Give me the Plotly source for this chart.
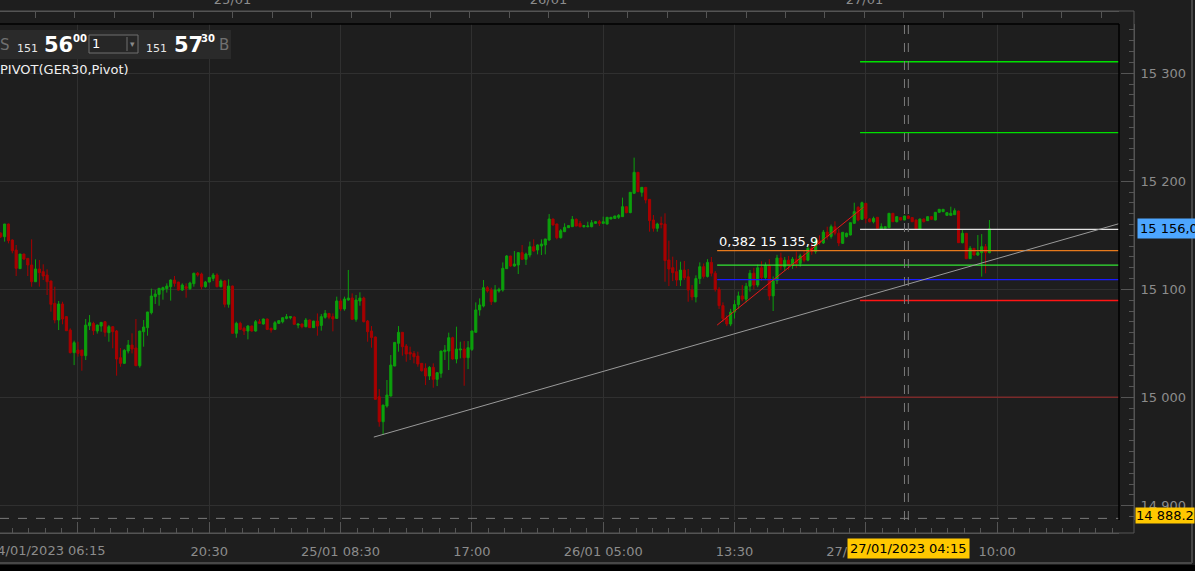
import plotly.graph_objects as go

# ---------------- data ----------------
# 15-minute candles, x = trading slot index (0 = 24/01 06:15)
opens = [
    15151.9, 15148.8, 15160.5, 15145.7, 15136.4, 15119.2, 15132.7, 15128.7, 15122.6, 15107.1,
    15118.9, 15116.4, 15113.3, 15107.8, 15087.1, 15071.7, 15086.5, 15074.8, 15062.4, 15041.5,
    15043.9, 15043.9, 15038.7, 15066.4, 15068.6, 15061.5, 15066.1, 15070.1, 15060.0, 15065.5,
    15061.5, 15036.8, 15031.6, 15043.0, 15048.5, 15045.8, 15029.4, 15060.9, 15064.6, 15078.5,
    15093.3, 15095.4, 15099.4, 15100.7, 15102.5, 15108.7, 15106.8, 15099.4, 15102.5, 15100.7,
    15105.3, 15114.9, 15114.2, 15102.5, 15106.8, 15110.2, 15113.3, 15102.5, 15107.8, 15086.2,
    15103.1, 15059.4, 15068.6, 15064.0, 15061.5, 15066.1, 15061.5, 15070.1, 15068.0, 15072.6,
    15064.0, 15063.0, 15068.6, 15070.1, 15073.2, 15073.8, 15074.5, 15067.0, 15068.0, 15065.5,
    15071.7, 15064.6, 15070.7, 15066.7, 15074.2, 15077.8, 15074.8, 15073.2, 15089.3, 15081.9,
    15090.2, 15092.0, 15072.3, 15089.3, 15092.0, 15070.7, 15061.5, 15056.0, 15000.7, 14977.6,
    14992.1, 15001.4, 15029.1, 15050.1, 15060.3, 15047.6, 15041.8, 15040.8, 15038.3, 15031.6,
    15027.0, 15019.9, 15027.9, 15016.8, 15022.4, 15042.4, 15043.0, 15055.3, 15035.6, 15044.0,
    15044.8, 15036.8, 15044.5, 15060.3, 15081.0, 15084.6, 15101.6, 15099.4, 15088.6, 15098.5,
    15099.4, 15119.2, 15130.9, 15121.6, 15122.6, 15134.0, 15127.8, 15131.8, 15139.5, 15136.4,
    15140.1, 15141.1, 15145.7, 15165.1, 15160.5, 15147.8, 15153.4, 15157.1, 15158.0, 15164.8,
    15161.1, 15158.0, 15158.0, 15158.0, 15161.1, 15162.6, 15161.1, 15160.5, 15165.1, 15165.7,
    15166.7, 15167.3, 15176.5, 15171.0, 15188.9, 15208.3, 15189.8, 15194.4, 15183.3, 15164.2,
    15156.5, 15161.1, 15160.5, 15127.2, 15120.1, 15116.4, 15108.7, 15117.9, 15111.7, 15099.4,
    15093.0, 15110.0, 15121.0, 15112.0, 15125.0, 15115.0, 15100.0, 15085.0, 15073.0, 15068.0,
    15079.0, 15086.0, 15094.0, 15091.0, 15103.0, 15115.0, 15104.0, 15120.0, 15111.0, 15122.0,
    15094.0, 15108.0, 15129.0, 15121.0, 15127.0, 15122.0, 15128.0, 15124.0, 15131.0, 15127.0,
    15138.0, 15135.0, 15145.0, 15143.0, 15153.0, 15149.0, 15158.0, 15152.0, 15142.6, 15148.8,
    15150.3, 15161.1, 15175.9, 15164.8, 15179.6, 15165.1, 15162.6, 15166.7, 15155.9, 15156.5,
    15157.1, 15170.4, 15162.6, 15166.4, 15164.2, 15167.9, 15166.4, 15164.2, 15155.5, 15165.1,
    15163.6, 15167.3, 15164.2, 15171.3, 15171.9, 15168.5, 15168.5, 15169.1, 15172.5, 15143.2,
    15151.9, 15128.4, 15138.0, 15131.8, 15134.0, 15139.5, 15134.0,
]
highs = [
    15153.0, 15160.5, 15160.8, 15146.3, 15141.1, 15132.7, 15133.0, 15128.7, 15146.3, 15127.8,
    15127.2, 15123.2, 15118.6, 15108.0, 15102.5, 15089.3, 15088.6, 15075.4, 15064.0, 15052.6,
    15051.6, 15044.0, 15072.6, 15076.3, 15070.1, 15067.5, 15069.8, 15070.7, 15067.0, 15066.1,
    15062.4, 15045.8, 15044.8, 15053.2, 15059.4, 15072.6, 15061.6, 15071.7, 15079.2, 15100.7,
    15099.4, 15101.3, 15102.5, 15105.6, 15109.3, 15112.4, 15107.0, 15105.6, 15105.6, 15107.1,
    15115.5, 15116.1, 15115.5, 15107.8, 15111.3, 15115.2, 15114.9, 15109.3, 15108.7, 15109.3,
    15103.5, 15070.1, 15070.1, 15065.5, 15067.0, 15066.5, 15071.7, 15072.6, 15073.0, 15073.0,
    15064.6, 15070.7, 15071.5, 15074.1, 15077.2, 15075.0, 15075.0, 15068.2, 15068.3, 15073.5,
    15072.0, 15071.0, 15077.8, 15077.2, 15080.9, 15078.0, 15077.8, 15093.3, 15091.4, 15093.3,
    15118.0, 15096.3, 15094.8, 15097.3, 15093.3, 15071.7, 15066.1, 15056.3, 15007.8, 14993.3,
    15016.2, 15039.3, 15051.3, 15066.1, 15060.5, 15049.5, 15047.0, 15043.0, 15042.4, 15031.8,
    15031.6, 15029.1, 15031.6, 15023.2, 15043.2, 15048.5, 15060.0, 15056.2, 15065.5, 15051.6,
    15052.2, 15052.2, 15061.8, 15088.0, 15091.7, 15108.7, 15103.1, 15101.6, 15104.0, 15101.6,
    15125.0, 15131.8, 15131.0, 15135.5, 15134.0, 15141.1, 15134.0, 15144.2, 15146.3, 15141.7,
    15146.3, 15146.8, 15169.7, 15165.3, 15160.8, 15155.9, 15161.1, 15159.2, 15167.9, 15165.7,
    15163.3, 15159.6, 15162.6, 15164.2, 15163.3, 15164.2, 15167.3, 15167.0, 15167.0, 15168.0,
    15169.7, 15184.9, 15176.6, 15190.0, 15221.9, 15208.5, 15194.5, 15194.5, 15183.5, 15168.8,
    15161.7, 15167.3, 15170.4, 15145.1, 15130.3, 15127.2, 15125.6, 15126.3, 15118.9, 15104.0,
    15113.0, 15125.0, 15124.0, 15128.0, 15130.0, 15117.0, 15102.0, 15088.0, 15076.0, 15082.0,
    15090.0, 15098.0, 15104.0, 15106.0, 15118.0, 15120.0, 15123.0, 15126.0, 15125.0, 15128.0,
    15112.0, 15132.0, 15134.0, 15130.0, 15131.0, 15130.0, 15135.0, 15133.0, 15136.0, 15140.0,
    15143.0, 15147.0, 15150.0, 15155.0, 15158.0, 15160.0, 15163.0, 15156.0, 15153.0, 15152.5,
    15162.0, 15180.2, 15177.0, 15181.2, 15180.0, 15166.0, 15167.3, 15167.0, 15161.1, 15158.3,
    15170.6, 15170.6, 15167.5, 15166.7, 15168.2, 15168.5, 15166.7, 15164.5, 15165.4, 15165.5,
    15167.6, 15167.6, 15171.6, 15174.4, 15174.3, 15171.2, 15176.5, 15175.0, 15172.8, 15154.9,
    15152.2, 15140.1, 15138.3, 15150.3, 15151.2, 15142.0, 15164.2,
]
lows = [
    15147.5, 15144.2, 15142.6, 15133.4, 15112.4, 15119.2, 15127.2, 15112.4, 15102.5, 15107.1,
    15102.5, 15108.7, 15094.8, 15079.4, 15068.6, 15062.4, 15067.7, 15061.5, 15040.8, 15030.0,
    15037.8, 15024.8, 15034.7, 15062.4, 15057.8, 15059.1, 15060.9, 15056.3, 15051.6, 15045.5,
    15020.2, 15028.5, 15031.3, 15040.8, 15040.8, 15029.2, 15027.6, 15047.0, 15057.2, 15076.9,
    15086.5, 15084.9, 15090.5, 15097.0, 15089.6, 15102.5, 15099.0, 15098.5, 15092.3, 15099.4,
    15102.5, 15111.8, 15100.0, 15101.6, 15106.5, 15107.8, 15101.9, 15101.9, 15083.4, 15083.1,
    15059.0, 15055.3, 15062.4, 15057.8, 15053.8, 15061.0, 15060.9, 15068.0, 15067.5, 15062.4,
    15060.0, 15062.4, 15068.0, 15068.6, 15072.3, 15072.3, 15067.5, 15064.0, 15064.0, 15064.9,
    15064.3, 15064.3, 15057.2, 15061.8, 15072.9, 15072.3, 15061.2, 15072.9, 15080.0, 15080.3,
    15089.6, 15072.0, 15070.1, 15084.9, 15069.5, 15051.6, 15046.1, 14998.0, 14973.0, 14965.3,
    14990.6, 15001.0, 15029.0, 15042.4, 15038.7, 15033.1, 15034.7, 15031.6, 15028.5, 15024.0,
    15011.5, 15016.2, 15009.1, 15010.6, 15018.3, 15034.7, 15025.4, 15035.0, 15031.6, 15036.2,
    15010.9, 15026.3, 15043.0, 15060.0, 15075.7, 15083.4, 15097.0, 15085.6, 15088.0, 15097.0,
    15097.9, 15118.9, 15121.0, 15121.0, 15114.2, 15127.2, 15122.6, 15129.6, 15134.9, 15132.4,
    15131.8, 15132.4, 15145.0, 15159.0, 15146.3, 15147.0, 15153.0, 15157.0, 15157.9, 15158.5,
    15157.4, 15157.1, 15157.4, 15157.4, 15160.5, 15158.6, 15160.5, 15160.0, 15164.8, 15165.1,
    15165.1, 15167.0, 15170.4, 15170.5, 15188.5, 15190.0, 15185.8, 15179.6, 15153.4, 15153.4,
    15153.4, 15156.5, 15107.1, 15103.1, 15107.7, 15103.1, 15103.1, 15108.7, 15088.6, 15090.0,
    15088.0, 15105.0, 15110.0, 15111.0, 15112.0, 15098.0, 15082.0, 15070.0, 15066.0, 15066.0,
    15073.0, 15082.0, 15089.0, 15088.0, 15098.0, 15100.0, 15102.0, 15108.0, 15109.0, 15090.0,
    15080.0, 15105.0, 15118.0, 15117.0, 15118.0, 15119.0, 15120.0, 15121.0, 15125.0, 15126.0,
    15132.0, 15133.0, 15141.0, 15142.0, 15146.0, 15147.0, 15150.0, 15140.0, 15142.0, 15148.0,
    15150.0, 15161.0, 15163.0, 15164.5, 15161.1, 15162.0, 15161.1, 15156.0, 15155.5, 15156.0,
    15157.0, 15162.4, 15162.0, 15163.9, 15164.0, 15165.0, 15162.3, 15155.2, 15155.0, 15162.0,
    15163.3, 15164.5, 15164.0, 15171.0, 15171.6, 15168.3, 15168.3, 15168.9, 15143.0, 15142.6,
    15128.0, 15128.1, 15131.5, 15130.9, 15111.8, 15114.9, 15133.4,
]
closes = [
    15148.8, 15160.5, 15145.1, 15135.8, 15119.5, 15132.7, 15128.1, 15122.6, 15107.1, 15118.9,
    15115.5, 15112.4, 15107.1, 15086.2, 15071.7, 15086.5, 15072.6, 15061.8, 15041.5, 15050.7,
    15040.8, 15038.7, 15067.0, 15069.2, 15061.8, 15067.0, 15069.5, 15060.3, 15065.5, 15060.9,
    15035.6, 15031.6, 15043.6, 15048.5, 15044.8, 15029.4, 15061.5, 15065.2, 15079.1, 15093.9,
    15095.7, 15101.0, 15101.6, 15103.1, 15108.7, 15105.6, 15099.4, 15104.0, 15101.0, 15105.9,
    15114.9, 15113.3, 15102.5, 15106.8, 15111.1, 15113.3, 15102.5, 15107.8, 15086.2, 15103.1,
    15059.4, 15068.6, 15063.0, 15061.5, 15066.1, 15061.5, 15070.1, 15068.6, 15072.6, 15063.0,
    15062.4, 15069.2, 15071.1, 15073.8, 15074.8, 15074.8, 15067.7, 15068.0, 15065.5, 15071.7,
    15064.6, 15070.7, 15066.1, 15074.8, 15077.8, 15074.2, 15072.6, 15089.3, 15081.9, 15091.1,
    15092.0, 15072.3, 15090.2, 15092.0, 15070.1, 15060.9, 15055.6, 14998.3, 14977.6, 14993.0,
    15002.3, 15030.0, 15051.0, 15060.3, 15047.0, 15040.2, 15040.2, 15037.7, 15031.0, 15024.8,
    15019.9, 15027.9, 15016.8, 15023.0, 15043.0, 15043.9, 15055.3, 15035.6, 15044.8, 15044.8,
    15036.8, 15046.1, 15061.5, 15081.0, 15085.6, 15101.6, 15098.5, 15088.6, 15099.4, 15100.0,
    15119.5, 15130.9, 15121.6, 15123.5, 15134.0, 15127.8, 15132.7, 15139.5, 15135.5, 15141.1,
    15142.0, 15146.6, 15165.1, 15159.6, 15147.8, 15154.3, 15157.4, 15159.0, 15164.8, 15158.6,
    15158.0, 15159.0, 15158.6, 15161.7, 15162.6, 15161.1, 15162.6, 15166.7, 15166.7, 15167.9,
    15168.5, 15176.5, 15171.0, 15189.8, 15208.3, 15190.4, 15194.4, 15182.7, 15163.6, 15156.5,
    15160.5, 15160.2, 15126.6, 15118.9, 15115.5, 15108.7, 15117.9, 15110.8, 15099.4, 15093.0,
    15110.0, 15121.0, 15112.0, 15125.0, 15115.0, 15100.0, 15085.0, 15073.0, 15068.0, 15079.0,
    15086.0, 15094.0, 15091.0, 15103.0, 15115.0, 15104.0, 15120.0, 15111.0, 15122.0, 15094.0,
    15108.0, 15129.0, 15121.0, 15127.0, 15122.0, 15128.0, 15124.0, 15131.0, 15127.0, 15138.0,
    15135.0, 15145.0, 15143.0, 15153.0, 15149.0, 15158.0, 15152.0, 15143.0, 15152.8, 15151.9,
    15161.7, 15171.9, 15164.2, 15180.2, 15165.7, 15162.6, 15165.7, 15156.5, 15158.0, 15158.0,
    15170.4, 15162.6, 15167.3, 15164.2, 15167.9, 15165.7, 15162.6, 15155.5, 15165.1, 15162.6,
    15167.3, 15164.8, 15171.3, 15174.1, 15174.1, 15171.0, 15170.4, 15172.8, 15143.2, 15151.9,
    15128.4, 15138.0, 15131.8, 15134.0, 15139.5, 15134.0, 15156.0,
]
first_slot = 3
slots = list(range(first_slot, first_slot + len(opens)))

# bottom time axis (trading slots)
time_tick_slots = [23, 57, 91, 125, 159, 193, 227, 261]
time_tick_text = ["", "20:30", "25/01 08:30", "17:00", "26/01 05:00", "13:30", "27/01 01:30", "10:00"]
first_label = "24/01/2023 06:15"
cursor_label = "27/01/2023 04:15"
cursor_slots = [237, 238]

# top calendar ruler
day_marks = ["2023-01-25", "2023-01-26", "2023-01-27"]

# pivot levels (R2, R1, P, S1, S2) drawn from the session start
pivot_start_slot = 225.5
pivot_levels = [15310.6, 15245.0, 15155.5, 15089.7, 15000.3]
pivot_colors = ["#00e000", "#00e000", "#e2e2e2", "#ff1414", "#7a2a2a"]

# fibonacci retracement
fib_start_slot = 188.5
fib_levels = [15135.9, 15122.5, 15109.1]
fib_colors = ["#e77a1c", "#33e633", "#1a1aff"]
fib_swing_slots = [188.5, 226.4]
fib_swing_prices = [15067.0, 15176.0]
fib_label = "0,382 15 135,9"

# trend line
trend_slots = [99.6, 292.55]
trend_prices = [14963.4, 15160.8]

last_price_text = "15 156,0"
last_price = 15156.0
range_low = 14888.2
range_low_text = "14 888.2"

# ---------------- layout constants ----------------
W, H = 1195, 571
ML, MR, MT, MB = 0, 61, 11, 38
PW, PH = W - ML - MR, H - MT - MB
X_RANGE = [2.81, 292.55]
Y_RANGE = [14886.7, 15345.5]

BG = "#1e1e1e"
GRID = "#303030"
AXC = "#555555"
TXT = "#8c8c8c"
GREEN = "#0ca00c"
RED = "#a80000"
FONT = "DejaVu Sans"


def px2x(px):
    return (px - ML) / PW


def py2y(py):
    return (H - MB - py) / PH


fig = go.Figure()

fig.add_trace(go.Candlestick(
    x=slots, open=opens, high=highs, low=lows, close=closes,
    increasing=dict(line=dict(color=GREEN, width=1), fillcolor=GREEN),
    decreasing=dict(line=dict(color=RED, width=1), fillcolor=RED),
    whiskerwidth=0, hoverinfo="skip", showlegend=False,
))

# pivot lines
for lvl, col in zip(pivot_levels, pivot_colors):
    fig.add_trace(go.Scatter(x=[pivot_start_slot, X_RANGE[1]], y=[lvl, lvl], mode="lines",
                             line=dict(color=col, width=1.4), hoverinfo="skip", showlegend=False))
# fib lines
for lvl, col in zip(fib_levels, fib_colors):
    fig.add_trace(go.Scatter(x=[fib_start_slot, X_RANGE[1]], y=[lvl, lvl], mode="lines",
                             line=dict(color=col, width=1.3), hoverinfo="skip", showlegend=False))
fig.add_trace(go.Scatter(x=fib_swing_slots, y=fib_swing_prices, mode="lines",
                         line=dict(color="#e81818", width=1), hoverinfo="skip", showlegend=False))
# trend line
fig.add_trace(go.Scatter(x=trend_slots, y=trend_prices, mode="lines",
                         line=dict(color="#9a9a9a", width=1), hoverinfo="skip", showlegend=False))

# day markers on top ruler
tri_y = Y_RANGE[1] + 7.0 * (Y_RANGE[1] - Y_RANGE[0]) / 496.0
fig.add_trace(go.Scatter(x=day_marks, y=[tri_y] * len(day_marks), xaxis="x2", yaxis="y",
                         mode="markers", marker=dict(symbol="triangle-down", size=10, color="#b8860b"),
                         cliponaxis=False, hoverinfo="skip", showlegend=False))

shapes = []
# price-range low dashed line
shapes.append(dict(type="line", xref="x domain", x0=0, x1=1, yref="y", y0=range_low, y1=range_low,
                   line=dict(color="#7a7a7a", width=1, dash="dash"), layer="above"))
# crosshair dashed verticals
for s in cursor_slots:
    shapes.append(dict(type="line", xref="x", x0=s, x1=s, yref="y domain", y0=0, y1=1,
                       line=dict(color="#7c7c7c", width=1, dash="dash"), layer="above"))
# plot frame (top + right)
shapes.append(dict(type="line", xref="x domain", x0=0, x1=1, yref="y domain", y0=1, y1=1,
                   line=dict(color="#000000", width=1.5), layer="above"))
shapes.append(dict(type="line", xref="x domain", x0=1, x1=1, yref="y domain", y0=0, y1=1,
                   line=dict(color="#000000", width=1.5), layer="above"))
# ruler / axis frame lines
shapes.append(dict(type="line", xref="paper", x0=0, x1=1, yref="paper", y0=1, y1=1,
                   line=dict(color=AXC, width=1)))
shapes.append(dict(type="line", xref="paper", x0=1, x1=1, yref="paper", y0=0, y1=1,
                   line=dict(color=AXC, width=1)))
shapes.append(dict(type="line", xref="paper", x0=0, x1=1, yref="paper", y0=0, y1=0,
                   line=dict(color=AXC, width=1)))
# outer window frame
shapes.append(dict(type="line", xref="paper", x0=px2x(1192), x1=px2x(1192), yref="paper", y0=py2y(0), y1=py2y(563),
                   line=dict(color="#474747", width=2)))
shapes.append(dict(type="line", xref="paper", x0=px2x(0), x1=px2x(1192), yref="paper", y0=py2y(563), y1=py2y(563),
                   line=dict(color="#474747", width=2)))
shapes.append(dict(type="rect", xref="paper", x0=px2x(-2), x1=px2x(W + 2), yref="paper", y0=py2y(565), y1=py2y(H + 2),
                   line=dict(width=0), fillcolor="#000000"))
# quote panel
shapes.append(dict(type="rect", xref="paper", x0=px2x(-2), x1=px2x(231), yref="paper", y0=py2y(59), y1=py2y(30),
                   line=dict(width=0), fillcolor="#2a2a2a", layer="above"))
shapes.append(dict(type="rect", xref="paper", x0=px2x(89), x1=px2x(138), yref="paper", y0=py2y(53), y1=py2y(35),
                   line=dict(color="#6e6e6e", width=1), fillcolor="#262626", layer="above"))
shapes.append(dict(type="line", xref="paper", x0=px2x(127), x1=px2x(127), yref="paper", y0=py2y(51), y1=py2y(37),
                   line=dict(color="#6e6e6e", width=1), layer="above"))


def ann(text, px, py, size=13, color=TXT, xanchor="left", yanchor="middle", **kw):
    d = dict(text=text, x=px2x(px), y=py2y(py), xref="paper", yref="paper",
             xanchor=xanchor, yanchor=yanchor, showarrow=False,
             font=dict(family=FONT, size=size, color=color), borderpad=0)
    d.update(kw)
    return d


annotations = [
    ann("S", -1, 45, size=15, color="#707070"),
    ann("151", 16, 48, size=11, color="#e6e6e6"),
    ann("<b>56</b>", 43, 45, size=21, color="#ffffff"),
    ann("<b>00</b>", 72, 38, size=10, color="#ffffff"),
    ann("1", 91, 44, size=13, color="#ffffff"),
    ann("▾", 132, 44, size=9, color="#8a8a8a", xanchor="center"),
    ann("151", 145, 48, size=11, color="#e6e6e6"),
    ann("<b>57</b>", 173, 45, size=21, color="#ffffff"),
    ann("<b>30</b>", 200, 38, size=10, color="#ffffff"),
    ann("B", 218, 45, size=15, color="#707070"),
    ann("PIVOT(GER30,Pivot)", -1, 69, size=13, color="#f0f0f0"),
    ann(first_label, 107, 550, size=13, color=TXT, xanchor="right"),
    dict(text=cursor_label, x=cursor_slots[1], xref="x", y=py2y(548.5), yref="paper",
         xanchor="center", yanchor="middle", showarrow=False, bgcolor="#ffc800", borderpad=2,
         font=dict(family=FONT, size=13, color="#000000")),
    dict(text=last_price_text, x=px2x(1137), xref="paper", y=last_price, yref="y",
         xanchor="left", yanchor="middle", showarrow=False, bgcolor="#4da6ff", borderpad=2,
         font=dict(family=FONT, size=13, color="#000000")),
    dict(text=range_low_text, x=px2x(1135), xref="paper", y=py2y(515), yref="paper",
         xanchor="left", yanchor="middle", showarrow=False, bgcolor="#ffc800", borderpad=0,
         font=dict(family=FONT, size=13, color="#000000")),
    dict(text=fib_label, x=fib_start_slot, xref="x", y=fib_levels[0], yref="y",
         xanchor="left", yanchor="bottom", showarrow=False, borderpad=1,
         font=dict(family=FONT, size=13, color="#ffffff")),
]

fig.update_layout(
    width=W, height=H,
    margin=dict(l=ML, r=MR, t=MT, b=MB, autoexpand=False),
    paper_bgcolor=BG, plot_bgcolor=BG,
    separators=". ",
    showlegend=False, hovermode=False, dragmode=False,
    boxgap=0.45, boxgroupgap=0,
    xaxis=dict(
        domain=[0, px2x(1119)], range=X_RANGE, anchor="free", position=0,
        showgrid=True, gridcolor=GRID, gridwidth=1, zeroline=False,
        tickmode="array", tickvals=time_tick_slots, ticktext=time_tick_text,
        ticks="inside", ticklen=11, tickcolor=AXC, tickwidth=1,
        minor=dict(ticks="inside", ticklen=5, tickcolor=AXC, dtick=34 / 8, tick0=23, showgrid=False),
        showline=True, linecolor=AXC, linewidth=1,
        tickfont=dict(family=FONT, size=13, color=TXT), ticklabelstandoff=6,
        rangeslider=dict(visible=False), fixedrange=True,
    ),
    xaxis2=dict(
        overlaying="x", side="top", anchor="free", position=1, type="date",
        range=["2023-01-24 06:20", "2023-01-27 19:20"],
        showgrid=False, zeroline=False, showline=True, linecolor=AXC,
        ticks="inside", ticklen=6, tickcolor=AXC, dtick=86400000, tick0="2023-01-25",
        tickformat="%d/%m",
        minor=dict(ticks="inside", ticklen=6, dtick=10800000, tick0="2023-01-25", tickcolor=AXC),
        tickfont=dict(family=FONT, size=13, color=TXT), ticklabelstandoff=2, fixedrange=True,
    ),
    yaxis=dict(
        domain=[py2y(520), py2y(24)], range=Y_RANGE, anchor="free", position=1, side="right",
        showgrid=True, gridcolor=GRID, gridwidth=1, zeroline=False,
        dtick=100, tick0=15000, tickformat=",.0f",
        ticks="inside", ticklen=13, tickcolor=AXC, tickwidth=1,
        minor=dict(ticks="inside", ticklen=5, dtick=10, tickcolor=AXC, showgrid=False),
        showline=True, linecolor=AXC,
        tickfont=dict(family=FONT, size=13, color=TXT), ticklabelstandoff=3, fixedrange=True,
    ),
    shapes=shapes,
    annotations=annotations,
)

fig.write_html(
    "out.html",
    config={"displayModeBar": False, "staticPlot": True},
    post_script="document.body.style.margin='0';document.body.style.padding='0';"
                "document.body.style.background='#000000';",
)
